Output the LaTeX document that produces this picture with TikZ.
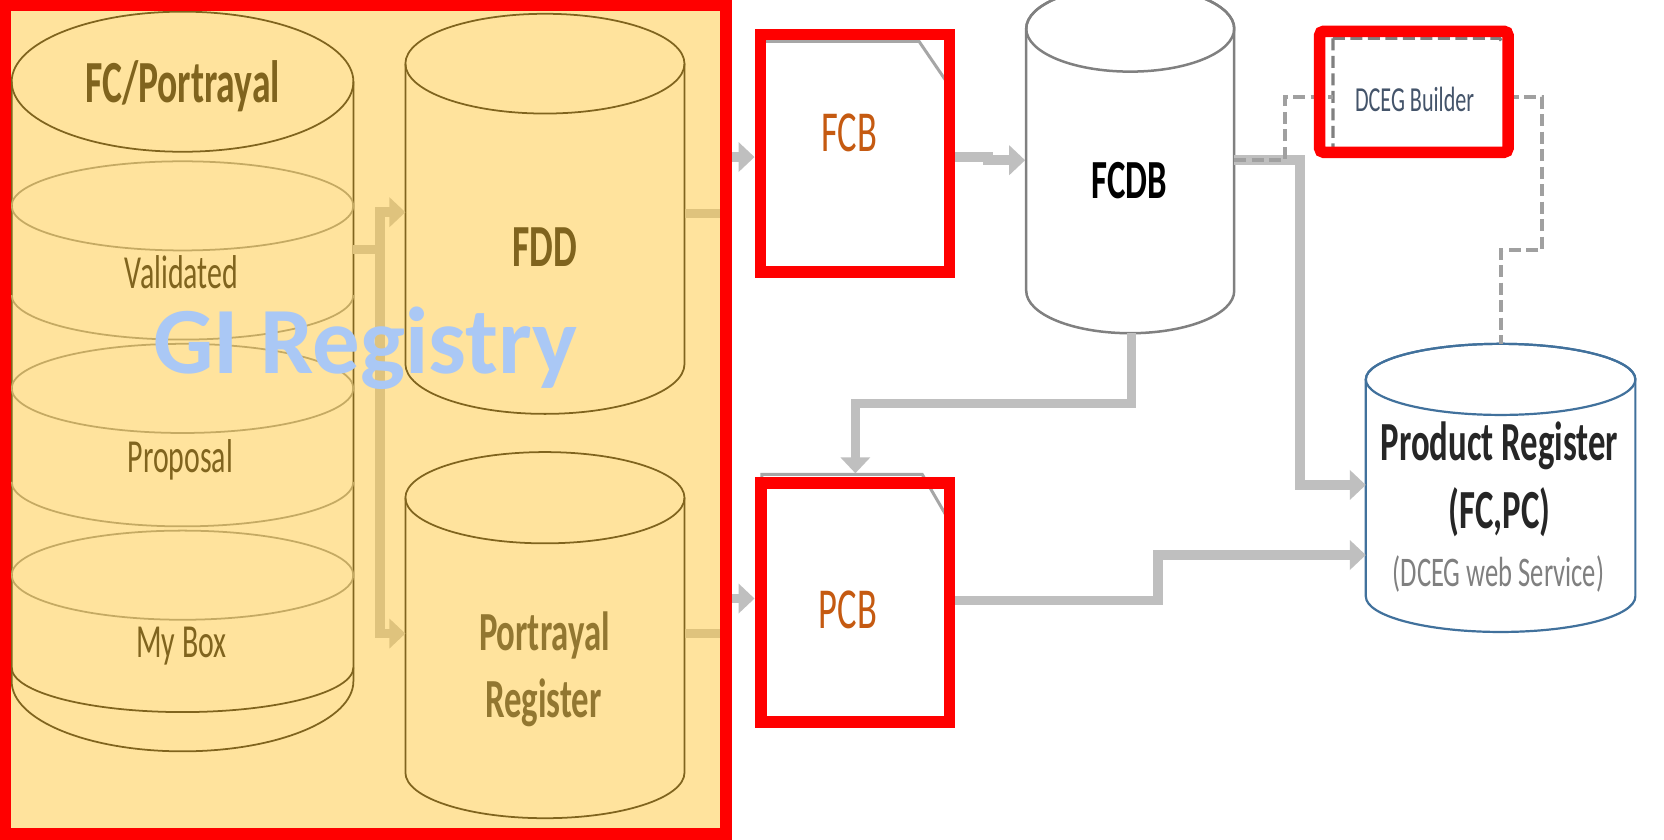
\documentclass[tikz,border=0pt]{standalone}
\usepackage{fontspec}
\setmainfont{Carlito}
\newfontfamily\narrowfont[FakeStretch=0.63]{Carlito}
\usepackage{tikz}
\usetikzlibrary{arrows.meta,calc}
\definecolor{flowgray}{RGB}{191,191,191}
\definecolor{dashgray}{RGB}{160,160,160}
\definecolor{docgray}{RGB}{166,166,166}
\definecolor{markred}{RGB}{255,0,0}
\definecolor{veil}{RGB}{255,200,60}
\definecolor{fcborange}{RGB}{197,90,17}
\definecolor{dcegslate}{RGB}{68,84,106}
\definecolor{prblue}{RGB}{65,113,156}
\definecolor{regblue}{RGB}{170,200,245}
\tikzset{
  flow/.style={draw=flowgray, line width=0.95mm, -{Triangle[length=1.6mm,width=2.9mm]}},
  dashflow/.style={draw=dashgray, line width=0.4mm, dash pattern=on 1.2mm off 0.55mm},
  redbox/.style={draw=markred, line width=1.15mm},
  cyl/.style={draw=black, line width=0.5pt},
  layer/.style={draw=black!45, line width=0.5pt},
  doc/.style={draw=docgray, fill=white, line width=0.3mm},
  headtext/.style={anchor=base, font=\narrowfont\bfseries\fontsize{17}{20}\selectfont},
  stacktext/.style={anchor=base, font=\narrowfont\fontsize{13.5}{16}\selectfont},
  boxtext/.style={anchor=base, text=fcborange, font=\narrowfont\fontsize{16.5}{19}\selectfont},
  regtext/.style={anchor=base, text=black!85, font=\narrowfont\bfseries\fontsize{15.7}{19}\selectfont}
}
\begin{document}
\begin{tikzpicture}[x=0.10612mm, y=-0.10612mm]
\clip (0,0) rectangle (1568,791);
\fill[white] (0,0) rectangle (1568,791);

% FC/Portrayal stack
\draw[cyl] (11,77) -- (11,642) arc[start angle=180, end angle=0, x radius=161, y radius=66] -- (333,77);
\draw[cyl] (172,77) ellipse[x radius=161, y radius=66];
\draw[layer] (172,194) ellipse[x radius=161, y radius=42];
\draw[layer] (11,278) arc[start angle=180, end angle=0, x radius=161, y radius=42];
\draw[layer] (172,366) ellipse[x radius=161, y radius=42];
\draw[layer] (11,454) arc[start angle=180, end angle=0, x radius=161, y radius=42];
\draw[layer] (172,542) ellipse[x radius=161, y radius=42];
\draw[cyl] (11,629) arc[start angle=180, end angle=0, x radius=161, y radius=42];
\node[headtext] (fcp) at (172,97) {FC/Portrayal};
\node[stacktext] (valid) at (171,272) {Validated};
\node[stacktext] (prop) at (170,445) {Proposal};
\node[stacktext] (mybox) at (171,620) {My Box};

% FDD and Portrayal Register
\draw[cyl] (382,60) -- (382,343) arc[start angle=180, end angle=0, x radius=131.5, y radius=47] -- (645,60);
\draw[cyl] (513.5,60) ellipse[x radius=131.5, y radius=47];
\node[headtext] (fdd) at (513,251) {FDD};
\draw[cyl] (382,469) -- (382,728) arc[start angle=180, end angle=0, x radius=131.5, y radius=43] -- (645,469);
\draw[cyl] (513.5,469) ellipse[x radius=131.5, y radius=43];
\node[regtext] (porreg) at (513,613) {Portrayal};
\node[regtext] (porreg2) at (512,676) {Register};

% FCB, PCB, DCEG Builder
\filldraw[doc] (717,39) -- (866,39) -- (894,80) -- (894,257) -- (717,257) -- cycle;
\node[boxtext] (fcb) at (800,143) {FCB};
\filldraw[doc] (718,447) -- (869,447) -- (894,490) -- (894,681) -- (718,681) -- cycle;
\node[boxtext] (pcb) at (799,592) {PCB};
\filldraw[fill=white, draw=black!50, line width=0.32mm, dash pattern=on 1.2mm off 0.55mm]
  (1256,36) -- (1413,36) -- (1420,46) -- (1420,144) -- (1256,144) -- cycle;
\node[anchor=base, text=dcegslate, font=\narrowfont\fontsize{10}{12}\selectfont] (dceg) at (1333,105) {DCEG Builder};

% FCDB
\filldraw[fill=white, draw=black!50, line width=0.25mm] (967,27) -- (967,274) arc[start angle=180, end angle=0, x radius=98, y radius=40]
  -- (1163,27) arc[start angle=0, end angle=-180, x radius=98, y radius=40.5] -- cycle;
\draw[black!50, line width=0.25mm] (1065,27) ellipse[x radius=98, y radius=40.5];
\node[anchor=base, font=\narrowfont\bfseries\fontsize{15.7}{19}\selectfont] (fcdb) at (1064,187) {FCDB};

% Product Register
\filldraw[fill=white, draw=prblue, line width=0.22mm] (1287,357.5) -- (1287,562) arc[start angle=180, end angle=0, x radius=127, y radius=33.5]
  -- (1541,357.5) arc[start angle=0, end angle=-180, x radius=127, y radius=33.5] -- cycle;
\draw[prblue, line width=0.22mm] (1414,357.5) ellipse[x radius=127, y radius=33.5];
\node[regtext] (prodreg) at (1413,434) {Product Register};
\node[regtext] (prodfc) at (1413,498) {(FC,PC)};
\node[anchor=base, text=black!50, font=\narrowfont\fontsize{12}{14}\selectfont] (prodws) at (1412,553) {(DCEG web Service)};

% connection points
\coordinate (fcp-e) at (333,235);
\coordinate (fork) at (358,235);
\coordinate (fdd-w) at (382,200);
\coordinate (fdd-e) at (645,201);
\coordinate (porreg-w) at (382,597);
\coordinate (porreg-e) at (645,597);
\coordinate (fcb-w) at (711,148);
\coordinate (fcb-e) at (900,148);
\coordinate (pcb-w) at (711,564);
\coordinate (pcb-n) at (806,446);
\coordinate (pcb-e) at (900,566);
\coordinate (fcdb-w) at (966,151);
\coordinate (fcdb-s) at (1066,314);
\coordinate (fcdb-e) at (1163,151);
\coordinate (dceg-w) at (1256,91);
\coordinate (dceg-e) at (1420,91);
\coordinate (prod-w1) at (1287,457);
\coordinate (prod-w2) at (1287,523);
\coordinate (prod-n) at (1414,324);

% connectors
\draw[flow] (fcp-e) -- (fork) |- (fdd-w);
\draw[flow] (fork) |- (porreg-w);
\draw[flow] (fdd-e) -- (684,201) |- (fcb-w);
\draw[flow] (porreg-e) -- (684,597) |- (pcb-w);
\draw[flow] (fcb-e) -- (931,148) -- (931,151) -- (fcdb-w);
\draw[flow] (fcdb-s) -- (1066,380) -| (pcb-n);
\draw[flow] (fcdb-e) -- (1225,151) |- (prod-w1);
\draw[flow] (pcb-e) -- (1091,566) |- (prod-w2);
\draw[dashflow] (fcdb-e) -- (1211,151) |- (dceg-w);
\draw[dashflow] (dceg-e) -- (1453,91) |- (1414,236) -- (prod-n);

% yellow veil and red marks
\fill[veil, fill opacity=0.5] (5,4.5) rectangle (684,786);
\draw[redbox] (5,4.5) rectangle (684,786);
\draw[redbox] (716.5,32.5) rectangle (894.5,256.5);
\draw[redbox] (717,455) rectangle (894.5,680.5);
\draw[redbox, rounded corners=0.4mm] (1243.5,29.5) rectangle (1421,143.5);

\node[anchor=base, text=regblue, font=\bfseries\fontsize{27}{32}\selectfont] (gireg) at (344,352) {GI Registry};
\end{tikzpicture}
\end{document}
